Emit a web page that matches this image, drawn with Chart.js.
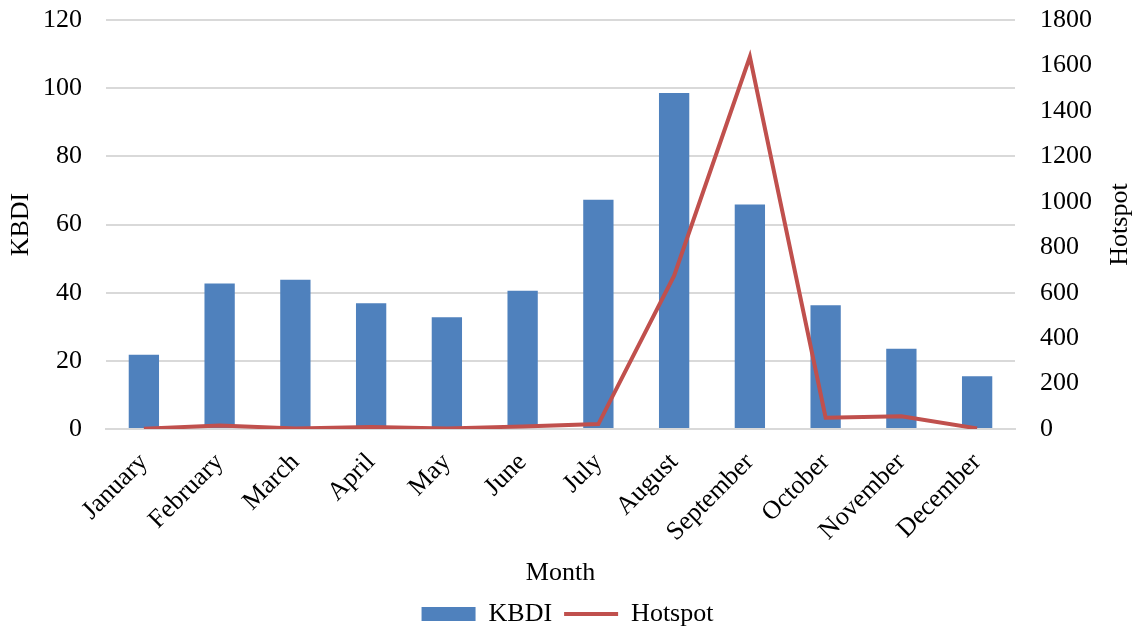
<!DOCTYPE html>
<html>
<head>
<meta charset="utf-8">
<script src="https://cdn.jsdelivr.net/npm/chart.js@4/dist/chart.umd.min.js"></script>
<style>
  body { margin: 0; background: #fff; }
  #wrap { width: 1135px; height: 628px; }
</style>
</head>
<body>
<div id="wrap"><canvas id="graph"></canvas></div>
<script>
// donnees
var months = ["January", "February", "March", "April", "May", "June", "July",
              "August", "September", "October", "November", "December"];
var kbdi = [21.8, 42.7, 43.8, 36.9, 32.8, 40.6, 67.3, 98.6, 65.9, 36.3, 23.6, 15.5];
var hotspot = [2, 16, 3, 9, 3, 12, 22, 675, 1638, 50, 57, 3];

var police = "'Liberation Serif', 'Times New Roman', serif";
Chart.defaults.font.family = police;
Chart.defaults.font.size = 26;
Chart.defaults.color = "#000";

//Titre de l'axe de droite, ecrit de bas en haut comme celui de gauche
var titreDroite = {
    id: "titreDroite",
    afterDraw: function(chart) {
        var c = chart.ctx;
        var sc = chart.scales.y2;
        c.save();
        c.translate(sc.right - 15, (chart.chartArea.top + chart.chartArea.bottom) / 2);
        c.rotate(-Math.PI / 2);
        c.font = "26px " + police;
        c.fillStyle = "#000";
        c.textAlign = "center";
        c.textBaseline = "middle";
        c.fillText("Hotspot", 0, 0);
        c.restore();
    }
};

var ctx = document.getElementById("graph").getContext("2d");
window.myChart = new Chart(ctx, {
    type: "bar",
    data: {
        labels: months,
        datasets: [{
            label: "Hotspot",
            type: "line",
            data: hotspot,
            yAxisID: "y2",
            borderColor: "#c0504d",
            backgroundColor: "#c0504d",
            borderWidth: 4,
            pointRadius: 0,
            pointStyle: "line",
            tension: 0,
            order: 0
        }, {
            label: "KBDI",
            data: kbdi,
            yAxisID: "y",
            backgroundColor: "#4f81bd",
            borderWidth: 0,
            pointStyle: "rect",
            barPercentage: 0.4,
            categoryPercentage: 1,
            order: 1
        }]
    },
    plugins: [titreDroite],
    options: {
        responsive: true,
        maintainAspectRatio: false,
        animation: false,
        layout: { padding: { top: 20, right: 0, left: 0, bottom: 0 } },
        scales: {
            x: {
                grid: { display: false },
                border: { display: true, color: "#d9d9d9", width: 2 },
                ticks: { maxRotation: 45, minRotation: 45, padding: 10 },
                title: { display: true, text: "Month", padding: { top: 0, bottom: 0 } },
                afterFit: function(s) { s.paddingLeft = 0; s.paddingRight = 0; }
            },
            y: {
                position: "left",
                min: 0, max: 120,
                ticks: { stepSize: 20, padding: 24 },
                grid: { color: "#d9d9d9", lineWidth: 2, drawTicks: false },
                border: { display: false },
                title: { display: true, text: "KBDI", padding: { top: 6, bottom: 4 } },
                afterFit: function(s) { s.width = 106; s.paddingTop = 0; s.paddingBottom = 0; }
            },
            y2: {
                position: "right",
                min: 0, max: 1800,
                ticks: {
                    stepSize: 200, padding: 25,
                    callback: function(v) { return String(v); }
                },
                grid: { display: false, drawTicks: false },
                border: { display: false },
                afterFit: function(s) { s.width = 120; s.paddingTop = 0; s.paddingBottom = 0; }
            }
        },
        plugins: {
            legend: {
                position: "bottom",
                reverse: true,
                maxHeight: 39,
                labels: {
                    usePointStyle: true,
                    pointStyleWidth: 54,
                    boxHeight: 14,
                    padding: 12
                }
            },
            tooltip: { enabled: false }
        }
    }
});
</script>
</body>
</html>
